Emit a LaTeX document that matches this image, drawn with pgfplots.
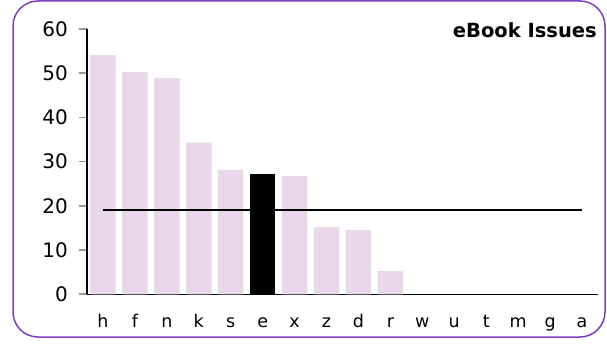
\documentclass[border=0pt]{standalone}
\usepackage{fontspec}
\setmainfont{DejaVu Sans}
\usepackage{pgfplots}
\pgfplotsset{compat=1.18}
\definecolor{barpink}{HTML}{E9D7EA}
\definecolor{frame}{HTML}{7B3FBF}
\definecolor{tickgray}{HTML}{999999}

\begin{document}
\begin{tikzpicture}
\begin{axis}[
    at={(87pt,50.7pt)}, anchor=south west,
    scale only axis,
    width=511pt, height=265.3pt,
    xmin=-0.5, xmax=15.5,
    ymin=0, ymax=60,
    axis x line=bottom, axis y line=left,
    axis line style={-, black, line width=1.2pt},
    xtick={0,...,15},
    xticklabels={h,f,n,k,s,e,x,z,d,r,w,u,t,m,g,a},
    ytick={0,10,...,60},
    xtick style={draw=none},
    ytick style={draw=tickgray, line width=1.6pt},
    ytick align=outside,
    xtick align=outside,
    /pgfplots/major tick length=8pt,
    /pgf/number format/assume math mode=true,
    xticklabel style={anchor=base, inner sep=0pt, yshift=-25pt, font=\fontsize{17.5}{19}\selectfont},
    yticklabel style={anchor=east, inner sep=0pt, xshift=-11pt, font=\fontsize{20}{23}\selectfont},
    clip=false,
]
\addplot[ybar, bar width=25.5pt, fill=barpink, draw=none] coordinates {
    (0,54.1) (1,50.3) (2,48.9) (3,34.3) (4,28.1) (6,26.8) (7,15.2) (8,14.5) (9,5.3)
};
\addplot[ybar, bar width=25.5pt, fill=black, draw=none] coordinates {(5,27.1)};
\addplot[black, line width=2.4pt, mark=none] coordinates {(0,19.1) (15,19.1)};
\end{axis}
\node[anchor=base east, inner sep=0pt, font=\fontsize{19.5}{22}\selectfont\bfseries] at (597pt,307.3pt) {eBook Issues};
\draw[frame, line width=1.5pt, rounded corners=25pt] (13pt,8pt) rectangle (605pt,344pt);
\pgfresetboundingbox
\path (0,0) rectangle (607pt,345pt);
\end{tikzpicture}
\end{document}
